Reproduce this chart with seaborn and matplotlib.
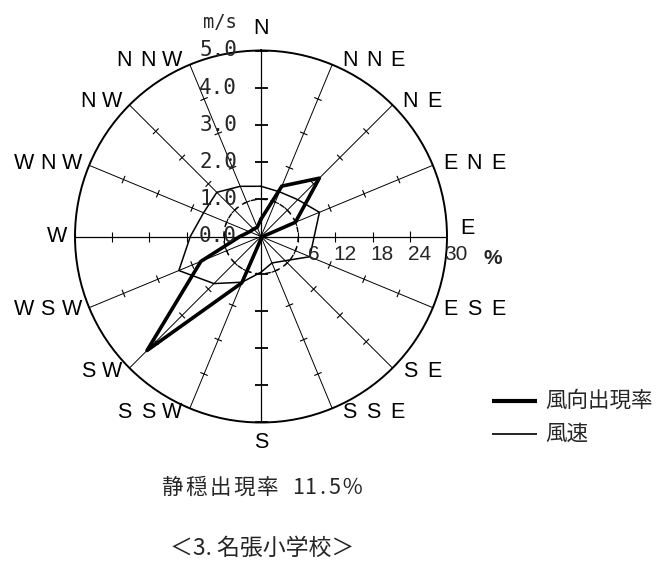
import numpy as np
import pandas as pd
import matplotlib
matplotlib.use("Agg")
import matplotlib.pyplot as plt
import seaborn as sns

# ---------------- data ----------------
directions = ["N", "NNE", "NE", "ENE", "E", "ESE", "SE", "SSE",
              "S", "SSW", "SW", "WSW", "W", "WNW", "NW", "NNW"]
frequency_pct = [2.8, 8.8, 13.3, 6.0, 0.3, 0.1, 0.1, 0.2,
                 0.4, 8.1, 26.0, 10.5, 3.4, 2.0, 1.7, 1.6]
wind_speed_ms = [1.35, 1.30, 1.40, 1.70, 1.43, 1.42, 0.92, 0.77,
                 0.96, 1.33, 1.79, 2.39, 1.90, 1.67, 1.68, 1.46]
pct_ticks = [6, 12, 18, 24, 30]
speed_ticks = [0.0, 1.0, 2.0, 3.0, 4.0, 5.0]
calm_ring_pct = 6.0
calm_label = "静穏出現率 11.5％"
title_label = "＜3. 名張小学校＞"
legend_labels = ["風向出現率", "風速"]
pct_max = 30
speed_max = 5.0

# ---------------- style ----------------
sns.set_style("white")
plt.rcParams["font.family"] = ["Noto Sans CJK JP", "DejaVu Sans"]

W, H = 664, 565
fig = plt.figure(figsize=(W / 100, H / 100), dpi=100)
fig.patch.set_facecolor("white")
cx, cy, R = 261.0, 236.5, 186.0
rect = [(cx - R) / W, (H - cy - R) / H, 2 * R / W, 2 * R / H]

ax = fig.add_axes(rect, projection="polar")
ax2 = fig.add_axes(rect, projection="polar")
for a in (ax, ax2):
    a.set_theta_zero_location("N")
    a.set_theta_direction(-1)
    a.patch.set_alpha(0)
ax2.spines["polar"].set_visible(False)
ax.spines["polar"].set_linewidth(1.4)
ax.spines["polar"].set_color("black")

n = len(directions)
theta = np.arange(n) * 2 * np.pi / n

# radial axes
for i, th in enumerate(theta):
    lw = 0.9 if i % 4 == 0 else 0.7
    ax.plot([th, th], [0, pct_max], color="black", lw=lw, zorder=1)

# ticks
def tick(th, r, half_px, lw):
    h = half_px / R * pct_max
    dth = np.arctan2(h, r)
    rr = np.hypot(r, h)
    ax.plot([th - dth, th + dth], [rr, rr], color="black", lw=lw,
            solid_capstyle="butt", zorder=1)

for i, th in enumerate(theta):
    for r in pct_ticks:
        if i in (0, 8):
            tick(th, r, 6.5, 1.3)
        elif i in (4, 12):
            tick(th, r, 5.0, 0.8)
        else:
            tick(th, r, 4.0, 0.8)

# calm ring (dashed)
ring_th = np.linspace(0, 2 * np.pi, 361)
ax.plot(ring_th, np.full_like(ring_th, calm_ring_pct), color="black",
        lw=1.0, ls=(0, (4, 3)), zorder=1)

# data polygons via seaborn
df_f = pd.DataFrame({"theta": np.append(theta, 2 * np.pi),
                     "value": frequency_pct + frequency_pct[:1]})
df_s = pd.DataFrame({"theta": np.append(theta, 2 * np.pi),
                     "value": wind_speed_ms + wind_speed_ms[:1]})
sns.lineplot(data=df_f, x="theta", y="value", ax=ax, sort=False,
             estimator=None, color="black", lw=2.6, zorder=3)
sns.lineplot(data=df_s, x="theta", y="value", ax=ax2, sort=False,
             estimator=None, color="black", lw=1.1, zorder=3)

for a, top in ((ax, pct_max), (ax2, speed_max)):
    a.set_ylim(0, top)
    a.set_xticks([])
    a.set_yticks([])
    a.grid(False)
    a.set_xlabel("")
    a.set_ylabel("")
    leg = a.get_legend()
    if leg is not None:
        leg.remove()

# ---------------- overlay for texts ----------------
ov = fig.add_axes([0, 0, 1, 1])
ov.set_xlim(0, W)
ov.set_ylim(H, 0)
ov.axis("off")
ov.patch.set_alpha(0)


def spaced(x, y, s, pitch, ha, glyph_half=7.5, **kw):
    k = len(s)
    if ha == "left":
        x0 = x + glyph_half
    elif ha == "right":
        x0 = x - glyph_half - pitch * (k - 1)
    else:
        x0 = x - pitch * (k - 1) / 2
    for j, ch in enumerate(s):
        ov.text(x0 + j * pitch, y, ch, ha="center", va="center", **kw)


dir_font = dict(family="Liberation Sans", fontsize=15.5, color="black")
for i, (lab, th) in enumerate(zip(directions, theta)):
    s, c = np.sin(th), np.cos(th)
    ex, ey = cx + R * s, cy - R * c
    if i == 0:
        spaced(cx, 28, lab, 24, "center", **dir_font)
    elif i == 8:
        spaced(cx, 443, lab, 24, "center", **dir_font)
    elif i == 4:
        spaced(ex + 13, 229, lab, 24, "left", **dir_font)
    elif s > 0:
        spaced(ex + 10, ey - 5 * c, lab, 24, "left", **dir_font)
    else:
        spaced(ex - 10, ey - 5 * c, lab, 24, "right", **dir_font)

# speed labels on N axis
for v in speed_ticks:
    ov.text(237, cy - v / speed_max * R, f"{v:.1f}", ha="right", va="center",
            family="DejaVu Sans Mono", fontsize=15)
ov.text(237, 22, "m/s", ha="right", va="center", family="DejaVu Sans Mono",
        fontsize=13.5)

# percent labels on E axis
for p in pct_ticks:
    ov.text(cx + p / pct_max * R + 21, 255, str(p), ha="right", va="center",
            family="Liberation Sans", fontsize=15)
ov.text(493, 259, "%", ha="center", va="center", family="Liberation Sans",
        fontweight="bold", fontsize=15)

# calm rate text (monospaced look)
def mono(xc, y, s, full, **kw):
    widths = [full if ord(ch) > 0x2E80 else full / 2 for ch in s]
    total = sum(widths)
    x = xc - total / 2
    for ch, w in zip(s, widths):
        ov.text(x + w / 2, y, ch, ha="center", va="center", **kw)
        x += w

mono(262, 488, calm_label, 24, fontsize=15.5)
ov.text(262, 548, title_label, ha="center", va="center", fontsize=16.5)

# legend
ov.plot([492, 537], [401, 401], color="black", lw=3.0, solid_capstyle="butt")
ov.text(545, 401, legend_labels[0], ha="left", va="center", fontsize=15.5)
ov.plot([492, 537], [434, 434], color="black", lw=1.2, solid_capstyle="butt")
ov.text(545, 434, legend_labels[1], ha="left", va="center", fontsize=15.5)

fig.savefig("out.png", dpi=100, facecolor="white")
